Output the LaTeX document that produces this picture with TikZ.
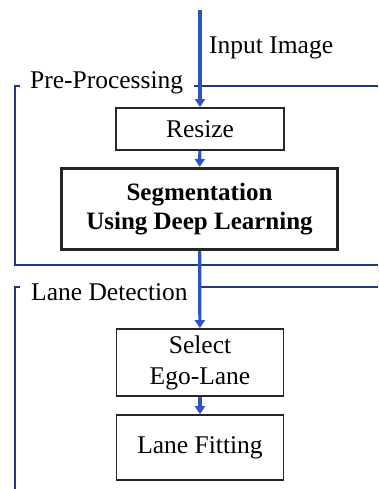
\documentclass[tikz,border=0pt]{standalone}
\usepackage{fontspec}
\setmainfont{Liberation Serif}
\usetikzlibrary{arrows.meta}

\definecolor{freccia}{RGB}{45,85,190}
\definecolor{cornice}{RGB}{30,55,130}

\begin{document}
\begin{tikzpicture}[x=1pt,y=-1pt,
  blocco/.style={draw=black!85, line width=1.8pt, align=center, inner sep=0pt,
    font=\fontsize{25.5}{30}\selectfont},
  flusso/.style={draw=freccia, line width=3.2pt, -{Triangle[length=8pt,width=10pt]}},
  telaio/.style={draw=cornice, line width=1.6pt},
  titolo/.style={anchor=west, inner sep=0pt, font=\fontsize{25.5}{30}\selectfont}]

\useasboundingbox (0,0) rectangle (378,489);

% Cornici
\draw[telaio] (20,86) -- (15,86) -- (15,265) -- (378,265);
\draw[telaio] (194,86) -- (378,86);
\draw[telaio] (20,287) -- (15,287) -- (15,489);
\draw[telaio] (200,287) -- (378,287);

% Titoli
\node[titolo] (pre) at (30,83) {Pre-Processing};
\node[titolo] (lane) at (31,292) {Lane Detection};
\node[titolo] (input) at (209,48) {Input Image};

% Blocchi
\node[blocco, minimum width=168, minimum height=42] (resize) at (200,129) {Resize};
\node[blocco, line width=3.2pt, minimum width=276, minimum height=81, font=\fontsize{25}{29}\selectfont\bfseries]
  (seg) at (199.5,209) {Segmentation\\Using Deep Learning};
\node[blocco, minimum width=167, minimum height=67, font=\fontsize{25.5}{31}\selectfont]
  (ego) at (200,362.5) {Select\\Ego-Lane};
\node[blocco, minimum width=167, minimum height=65] (fit) at (200,447.5) {Lane Fitting};

% Frecce
\coordinate (top) at (200,10);
\draw[flusso] (top) -- (resize.north);
\draw[flusso] (resize) -- (seg);
\draw[flusso] (seg) -- (ego);
\draw[flusso] (ego) -- (fit);

\end{tikzpicture}
\end{document}
